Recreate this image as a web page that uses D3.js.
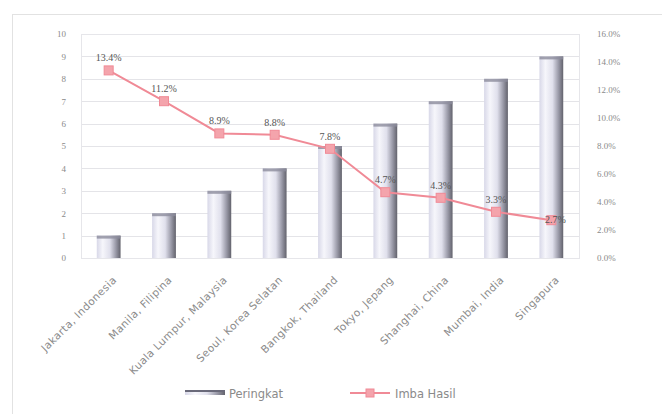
<!DOCTYPE html>
<html><head><meta charset="utf-8">
<script src="https://cdn.jsdelivr.net/npm/d3@7"></script>
<style>body{margin:0;background:#fff;}svg{display:block;}</style>
</head><body>
<svg id="c" width="662" height="414"></svg>
<script>
const categories = ["Jakarta, Indonesia","Manila, Filipina","Kuala Lumpur, Malaysia","Seoul, Korea Selatan","Bangkok, Thailand","Tokyo, Jepang","Shanghai, China","Mumbai, India","Singapura"];
const peringkat = [1,2,3,4,5,6,7,8,9];
const imbalHasil = [13.4,11.2,8.9,8.8,7.8,4.7,4.3,3.3,2.7];
const imbalLabels = ["13.4%","11.2%","8.9%","8.8%","7.8%","4.7%","4.3%","3.3%","2.7%"];
const leftTicks = [0,1,2,3,4,5,6,7,8,9,10];
const rightTicks = [0,2,4,6,8,10,12,14,16];

const svg = d3.select("#c");
const m = {l:81, r:579, t:34, b:258};
const x = d3.scaleBand().domain(categories).range([m.l, m.r]).paddingInner(0.57).paddingOuter(0.285);
const yL = d3.scaleLinear().domain([0,10]).range([m.b, m.t]);
const yR = d3.scaleLinear().domain([0,16]).range([m.b, m.t]);

// outer frame
svg.append("rect").attr("x",12.5).attr("y",14.5).attr("width",660).attr("height",420)
  .attr("fill","none").attr("stroke","#e2e2e2");

const defs = svg.append("defs");
const g = defs.append("linearGradient").attr("id","barg").attr("x1","0").attr("x2","1").attr("y1","0").attr("y2","0");
[[0,"#d8d8e8"],[0.25,"#f6f6fb"],[0.55,"#e0e0ec"],[0.8,"#9a9aa8"],[1,"#62626c"]].forEach(s=>
  g.append("stop").attr("offset",s[0]).attr("stop-color",s[1]));

// gridlines
svg.append("g").selectAll("line").data(leftTicks).join("line")
  .attr("x1",m.l).attr("x2",m.r).attr("y1",d=>Math.round(yL(d))+0.5).attr("y2",d=>Math.round(yL(d))+0.5)
  .attr("stroke","#e4e4e8");
svg.append("rect").attr("x",m.l+0.5).attr("y",m.t+0.5).attr("width",m.r-m.l).attr("height",m.b-m.t)
  .attr("fill","none").attr("stroke","#e6e6ea");

// axes
const axL = svg.append("g").attr("transform",`translate(${m.l},0)`)
  .call(d3.axisLeft(yL).tickValues(leftTicks).tickFormat(d3.format("d")).tickSize(0).tickPadding(15));
const axR = svg.append("g").attr("transform",`translate(${m.r},0)`)
  .call(d3.axisRight(yR).tickValues(rightTicks).tickFormat(d=>d.toFixed(1)+"%").tickSize(0).tickPadding(18));
[axL,axR].forEach(a=>{a.select(".domain").remove();
  a.selectAll("text").attr("fill","#8a8a8a").style("font-family","Liberation Serif, serif").style("font-size","9px");});

// bars
svg.append("g").selectAll("rect").data(peringkat).join("rect")
  .attr("x",(d,i)=>x(categories[i])).attr("y",d=>yL(d)).attr("width",x.bandwidth())
  .attr("height",d=>yL(0)-yL(d)).attr("fill","url(#barg)");
svg.append("g").selectAll("rect").data(peringkat).join("rect")
  .attr("x",(d,i)=>x(categories[i])).attr("y",d=>yL(d)).attr("width",x.bandwidth())
  .attr("height",3).attr("fill","#8c8c9c").attr("opacity",0.8);

// x labels
const xAx = svg.append("g").attr("transform",`translate(0,${m.b})`)
  .call(d3.axisBottom(x).tickSize(0).tickPadding(0));
xAx.select(".domain").remove();
xAx.selectAll("text").attr("text-anchor","end").attr("fill","#8a8a8a")
  .style("font-family","DejaVu Sans, sans-serif").style("font-size","10.5px")
  .style("letter-spacing","0.4px")
  .attr("transform","translate(6,20) rotate(-45)").attr("dy","0.35em");

// line
const cx = c=>x(c)+x.bandwidth()/2;
svg.append("path").datum(imbalHasil)
  .attr("d",d3.line().x((d,i)=>cx(categories[i])).y(d=>yR(d)))
  .attr("fill","none").attr("stroke","#f08a96").attr("stroke-width",2);
svg.append("g").selectAll("rect").data(imbalHasil).join("rect")
  .attr("x",(d,i)=>cx(categories[i])-4.5).attr("y",d=>yR(d)-4.5).attr("width",9).attr("height",9)
  .attr("fill","#f4a4ac").attr("stroke","#f08a96");
svg.append("g").selectAll("text").data(imbalHasil).join("text")
  .attr("x",(d,i)=>cx(categories[i])+(i===8?4:0)).attr("y",(d,i)=>i===8?yR(d)+3:yR(d)-9)
  .attr("text-anchor","middle").attr("fill","#555")
  .style("font-family","Liberation Serif, serif").style("font-size","10px")
  .text((d,i)=>imbalLabels[i]);

// legend
const lg = svg.append("g");
lg.append("rect").attr("x",185).attr("y",390).attr("width",40).attr("height",5).attr("fill","url(#barg)");
lg.append("rect").attr("x",185).attr("y",390).attr("width",40).attr("height",2).attr("fill","#6a6a7a");
lg.append("text").attr("x",229).attr("y",398).text("Peringkat");
lg.append("line").attr("x1",350).attr("x2",390).attr("y1",393).attr("y2",393).attr("stroke","#f08a96").attr("stroke-width",2);
lg.append("rect").attr("x",366).attr("y",389).attr("width",8).attr("height",8).attr("fill","#f4a4ac").attr("stroke","#f08a96");
lg.append("text").attr("x",395).attr("y",398).text("Imba Hasil");
lg.selectAll("text").attr("fill","#8a8a8a").style("font-family","DejaVu Sans, sans-serif").style("font-size","11.5px");
</script>
</body></html>
